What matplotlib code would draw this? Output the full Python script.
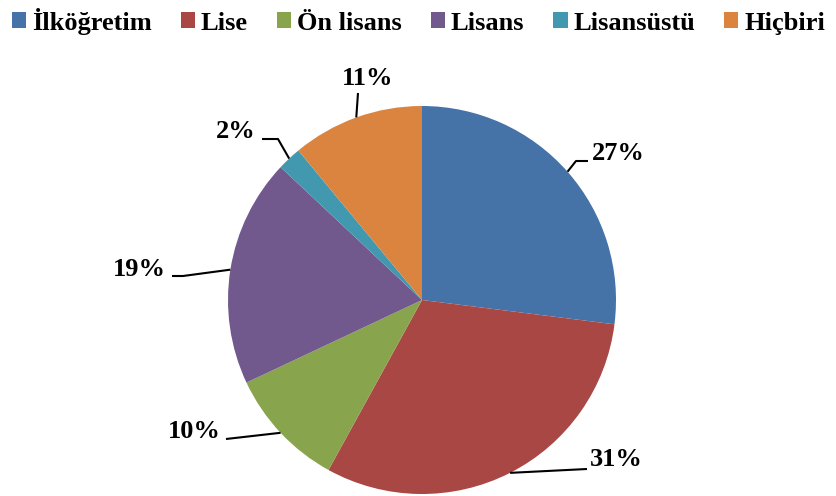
import matplotlib
matplotlib.use("Agg")
import matplotlib.pyplot as plt
import numpy as np
from matplotlib.patches import Patch

plt.rcParams.update({
    "font.family": ["Liberation Serif", "DejaVu Serif"],
    "font.weight": "bold",
})

categories = ["İlköğretim", "Lise", "Ön lisans", "Lisans", "Lisansüstü", "Hiçbiri"]
shares = [27, 31, 10, 19, 2, 11]
colors = ["#4573A8", "#A94744", "#88A44C", "#71598E", "#4198AF", "#DA8440"]

W, H = 837, 496
CX, CY, R = 422, 300, 194  # pie centre / radius in pixels (y from top)

# label text anchor (x, y, ha) and leader knee points, pixel coords from top
label_pos = [(592, 153, "left"), (590, 460, "left"), (221, 432, "right"),
             (166, 269, "right"), (256, 131, "right"), (368, 78, "center")]
leader_pts = [[(576, 161), (588, 161)],
              [(587, 469)],
              [(226, 439)],
              [(183, 276), (172, 276)],
              [(278, 139), (262, 139)],
              [(358, 93)]]


def px(x, y):
    return x, H - y


fig = plt.figure(figsize=(W / 100, H / 100), dpi=100)
ax = fig.add_axes([0, 0, 1, 1])

wedges, _ = ax.pie(shares, colors=colors, startangle=90, counterclock=False,
                   center=px(CX, CY), radius=R, frame=True,
                   wedgeprops=dict(linewidth=0))
ax.set_xlim(0, W)
ax.set_ylim(0, H)
ax.set_aspect("equal")
ax.axis("off")

total = sum(shares)
for w, v, (lx, ly, ha), pts in zip(wedges, shares, label_pos, leader_pts):
    ang = np.deg2rad((w.theta1 + w.theta2) / 2)
    ex = CX + R * np.cos(ang)
    ey = CY - R * np.sin(ang)
    xs = [ex] + [p[0] for p in pts]
    ys = [H - ey] + [H - p[1] for p in pts]
    ax.plot(xs, ys, color="black", lw=1.5, solid_capstyle="butt")
    ax.text(*px(lx, ly), f"{round(100 * v / total)}%", ha=ha, va="center",
            fontsize=19, fontweight="bold")

handles = [Patch(facecolor=c, edgecolor="none", label=l)
           for c, l in zip(colors, categories)]
fig.legend(handles=handles, loc="upper center", bbox_to_anchor=(0.5, 0.99),
           ncol=6, frameon=False, handlelength=0.54,
           handleheight=0.54, handletextpad=0.22, columnspacing=1.1,
           borderaxespad=0.0, borderpad=0.1,
           prop=dict(weight="bold", size=19))

fig.savefig("out.png", dpi=100)
